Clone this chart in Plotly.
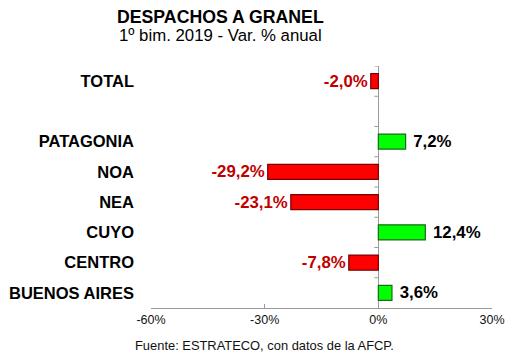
import plotly.graph_objects as go

categories = ["TOTAL", " ", "PATAGONIA", "NOA", "NEA", "CUYO", "CENTRO", "BUENOS AIRES"]
values = [-2.0, None, 7.2, -29.2, -23.1, 12.4, -7.8, 3.6]
x_tickvals = [-60, -30, 0, 30]
x_ticktext = ["-60%", "-30%", "0%", "30%"]

fill = []
outline = []
txtcol = []
labels = []
for v in values:
    if v is None:
        fill.append("rgba(0,0,0,0)"); outline.append("rgba(0,0,0,0)"); txtcol.append("black"); labels.append("")
    elif v < 0:
        fill.append("#ff0000"); outline.append("#7a0000"); txtcol.append("#c00000")
        labels.append("<b>" + f"{v:.1f}%".replace(".", ",") + "</b>")
    else:
        fill.append("#00ff00"); outline.append("#1a6b1a"); txtcol.append("#000000")
        labels.append("<b>\u00a0" + f"{v:.1f}%".replace(".", ",") + "</b>")

fig = go.Figure()
fig.add_trace(go.Bar(
    y=categories, x=values, orientation="h", width=0.5,
    marker=dict(color=fill, line=dict(color=outline, width=1.2)),
    text=labels, textposition="outside", cliponaxis=False, constraintext="none",
    textfont=dict(family="Liberation Sans, Arial", size=16.8, color=txtcol),
    hoverinfo="skip",
))

# small tick marks on the zero line at category boundaries
n = len(categories)
for i in range(n):
    fig.add_shape(type="line", xref="x", yref="y", xsizemode="pixel", xanchor=0,
                  x0=-4, x1=0, y0=i - 0.5, y1=i - 0.5,
                  line=dict(color="#9a9a9a", width=1))

fig.update_layout(
    width=522, height=356,
    margin=dict(l=143, r=38, t=58, b=56),
    paper_bgcolor="white", plot_bgcolor="white",
    showlegend=False,
    font=dict(family="Liberation Sans, Arial", color="black"),
    xaxis=dict(range=[-60, 30], tickvals=x_tickvals, ticktext=x_ticktext, automargin=False,
               showgrid=False, zeroline=True, zerolinecolor="#9a9a9a", zerolinewidth=1.2,
               showline=True, linecolor="#9a9a9a", linewidth=1.2,
               ticks="inside", ticklen=4, tickcolor="#9a9a9a",
               tickfont=dict(size=12.5, color="#111111"), fixedrange=True),
    yaxis=dict(categoryorder="array", categoryarray=categories, automargin=False,
               range=[n - 0.5, -0.5], showgrid=False, showline=False, zeroline=False,
               ticks="", ticklabelstandoff=16,
               tickfont=dict(size=16.5, color="black", weight="bold"), fixedrange=True),
    annotations=[
        dict(text="<b>DESPACHOS A GRANEL</b>", xref="paper", yref="paper",
             x=0.205, y=1.203, xanchor="center", yanchor="middle", showarrow=False,
             borderpad=0, font=dict(size=17.7, color="black")),
        dict(text="1º bim. 2019 - Var. % anual", xref="paper", yref="paper",
             x=0.205, y=1.124, xanchor="center", yanchor="middle", showarrow=False,
             borderpad=0, font=dict(size=16.8, color="black")),
        dict(text="Fuente: ESTRATECO, con datos de la AFCP.", xref="paper", yref="paper",
             x=0.333, y=-0.153, xanchor="center", yanchor="middle", showarrow=False,
             font=dict(size=12.9, color="#111111")),
    ],
)

fig.write_html("out.html")
